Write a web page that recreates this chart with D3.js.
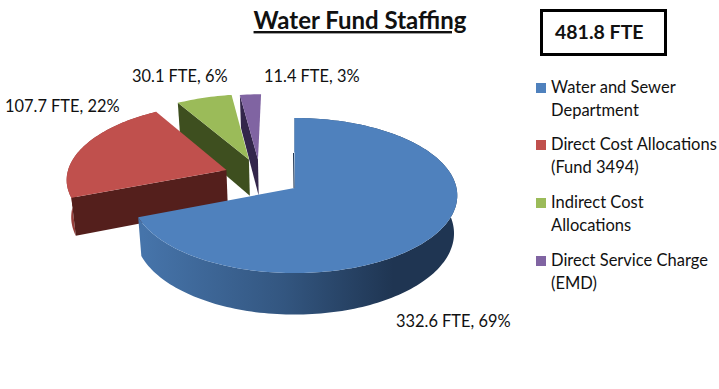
<!DOCTYPE html>
<html>
<head>
<meta charset="utf-8">
<script src="https://cdn.jsdelivr.net/npm/d3@7"></script>
<style>
html, body { margin: 0; padding: 0; background: #fff; }
svg { display: block; }
text { font-family: Lato, "Open Sans", sans-serif; fill: #111; }
</style>
</head>
<body>
<svg id="chart" width="719" height="389"></svg>
<script>
// data
var categories = ["Water and Sewer Department", "Direct Cost Allocations (Fund 3494)", "Indirect Cost Allocations", "Direct Service Charge (EMD)"];
var legend_lines = [["Water and Sewer", "Department"], ["Direct Cost Allocations", "(Fund 3494)"], ["Indirect Cost", "Allocations"], ["Direct Service Charge", "(EMD)"]];
var fte_values = [332.6, 107.7, 30.1, 11.4];
var percent_values = [69, 22, 6, 3];
var title_text = "Water Fund Staffing";
var total_text = "481.8 FTE";

var top_colors = ["#4f81bd", "#c0504d", "#9bbb59", "#8064a2"];
var wall_colors = ["#1f3552", "#541f1c", "#3e4f1f", "#33264b"];
var rim_colors = ["url(#blueRim)", "#963e3a", "#3e4f1f", "#33264b"];

// how far each slice was dragged out, in ground plane units
var explode_x = [0, -0.43, -0.292, -0.234];
var explode_y = [0, 0.24, 0.385, 0.385];
var label_x = [396, 5, 132, 264];
var label_y = [327, 112, 82, 82];
var legend_y = [88, 145, 203, 261];

var svg = d3.select("#chart");

// pie in perspective
var cx = 294.5, cy = 188, rx = 162, ry = 76.8, persp = 0.097, depth = 37.5, shrink = 0.98;

function project(X, Y, low){
    var s = 1 / (1 + persp * Y);
    var px = cx + rx * X * s * (low ? shrink : 1);
    var py = cy - ry * Y * s + (low ? depth * s : 0);
    return [px, py];
}

function rimPoint(i, a, low){
    return project(explode_x[i] + Math.sin(a), explode_y[i] + Math.cos(a), low);
}

function apexPoint(i, low){
    return project(explode_x[i], explode_y[i], low);
}

var pieData = d3.pie().sort(null)(fte_values);
var line = d3.line();

function arcPoints(i, d, low){
    var n = Math.ceil((d.endAngle - d.startAngle) * 40);
    return d3.range(n + 1).map(function(k){
        return rimPoint(i, d.startAngle + (d.endAngle - d.startAngle) * k / n, low);
    });
}

var defs = svg.append("defs");
var grad = defs.append("linearGradient")
    .attr("id", "blueRim")
    .attr("gradientUnits", "userSpaceOnUse")
    .attr("x1", 143).attr("x2", 456).attr("y1", 0).attr("y2", 0);
grad.append("stop").attr("offset", "0").attr("stop-color", "#4674aa");
grad.append("stop").attr("offset", "0.45").attr("stop-color", "#335680");
grad.append("stop").attr("offset", "0.8").attr("stop-color", "#1f3552");
grad.append("stop").attr("offset", "1").attr("stop-color", "#1f3552");

// back slices first, blue goes over everything
[3, 2, 1, 0].forEach(function(i){
    var d = pieData[i];
    var g = svg.append("g").attr("class", "slice");
    var upper = arcPoints(i, d, false);
    var lower = arcPoints(i, d, true);

    // curved outside wall, green and purple face away so it never shows
    if(i < 2){
        g.append("path")
            .attr("d", line(upper.concat(lower.slice().reverse())) + "Z")
            .attr("fill", rim_colors[i]);
    }

    // flat cut wall on the start side
    g.append("path")
        .attr("d", line([apexPoint(i, false), upper[0], lower[0], apexPoint(i, true)]) + "Z")
        .attr("fill", wall_colors[i]);

    // top face
    g.append("path")
        .attr("d", line([apexPoint(i, false)].concat(upper)) + "Z")
        .attr("fill", top_colors[i]);
});

// thin dark edge on the blue cut
var blue_apex = apexPoint(0, false);
var blue_mid = rimPoint(0, 0, false);
svg.append("line")
    .attr("x1", blue_apex[0] - 0.5).attr("y1", blue_apex[1])
    .attr("x2", blue_mid[0] - 1).attr("y2", (blue_apex[1] + blue_mid[1]) / 2)
    .attr("stroke", wall_colors[0])
    .attr("stroke-width", 1);

// data labels
svg.selectAll(".dataLabel")
    .data(fte_values)
    .enter()
    .append("text")
    .attr("class", "dataLabel")
    .attr("x", function(d, i){ return label_x[i]; })
    .attr("y", function(d, i){ return label_y[i]; })
    .style("font-size", "16.4px")
    .text(function(d, i){ return d + " FTE, " + percent_values[i] + "%"; });

// title
svg.append("text")
    .attr("x", 360).attr("y", 29)
    .attr("text-anchor", "middle")
    .style("font-size", "24px")
    .style("font-weight", "700")
    .style("text-decoration", "underline")
    .text(title_text);

// total box
svg.append("rect")
    .attr("x", 541.5).attr("y", 10.5)
    .attr("width", 124).attr("height", 44)
    .attr("fill", "#fff")
    .attr("stroke", "#000")
    .attr("stroke-width", 3);
svg.append("text")
    .attr("x", 555).attr("y", 39)
    .style("font-size", "19.5px")
    .style("font-weight", "700")
    .text(total_text);

// legend
var legend = svg.selectAll(".legendItem")
    .data(categories)
    .enter()
    .append("g")
    .attr("class", "legendItem")
    .attr("transform", function(d, i){ return "translate(536," + legend_y[i] + ")"; });
legend.append("rect")
    .attr("x", 0).attr("y", -5)
    .attr("width", 10).attr("height", 10)
    .attr("fill", function(d, i){ return top_colors[i]; });
legend.each(function(d, i){
    var item = d3.select(this);
    legend_lines[i].forEach(function(t, k){
        item.append("text")
            .attr("x", 15)
            .attr("y", 5 + k * 23)
            .style("font-size", "16.5px")
            .text(t);
    });
});
</script>
</body>
</html>
